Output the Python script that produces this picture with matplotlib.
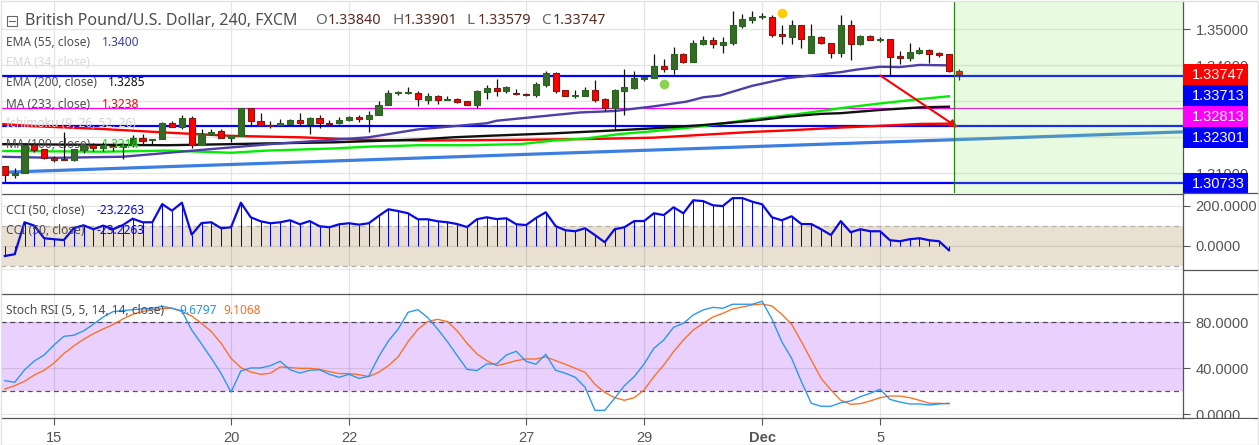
from matplotlib import pyplot as plt
from matplotlib.patches import Rectangle
import numpy as np


#准备K线数据 (开,高,低,收)
ohlc = [
    (13120,13120,13077,13096),(13096,13116,13088,13101),(13100,13183,13100,13178),(13178,13188,13160,13166),
    (13167,13167,13141,13142),(13143,13148,13132,13137),(13140,13215,13137,13138),(13138,13168,13134,13168),
    (13166,13181,13157,13178),(13178,13183,13163,13169),(13169,13188,13163,13178),(13177,13188,13163,13172),
    (13174,13183,13139,13178),(13178,13206,13174,13198),(13198,13209,13178,13191),(13192,13195,13181,13195),
    (13194,13243,13194,13240),(13239,13246,13228,13230),(13230,13262,13224,13254),(13254,13258,13171,13178),
    (13178,13223,13178,13209),(13208,13222,13206,13214),(13217,13222,13199,13199),(13199,13206,13187,13206),
    (13205,13281,13205,13281),(13281,13281,13234,13244),(13244,13267,13231,13233),(13233,13245,13226,13231),
    (13233,13250,13231,13240),(13238,13251,13237,13248),(13247,13268,13232,13239),(13238,13256,13209,13254),
    (13254,13262,13226,13239),(13240,13248,13231,13238),(13239,13257,13238,13247),(13247,13259,13246,13256),
    (13256,13261,13243,13250),(13250,13273,13215,13262),(13261,13301,13261,13289),(13289,13331,13289,13322),
    (13322,13330,13318,13326),(13323,13339,13320,13325),(13324,13330,13288,13306),(13305,13322,13293,13315),
    (13314,13318,13293,13305),(13304,13315,13303,13306),(13306,13310,13295,13299),(13300,13302,13290,13291),
    (13290,13331,13281,13329),(13327,13345,13306,13336),(13336,13362,13315,13330),(13330,13343,13324,13340),
    (13322,13334,13318,13319),(13320,13324,13315,13318),(13318,13354,13312,13347),(13345,13384,13341,13378),
    (13379,13381,13323,13330),(13331,13331,13315,13316),(13315,13331,13309,13318),(13315,13339,13315,13331),
    (13331,13359,13299,13305),(13306,13309,13273,13282),(13282,13333,13223,13331),(13330,13390,13262,13339),
    (13337,13383,13334,13364),(13363,13370,13357,13367),(13366,13431,13366,13398),(13397,13418,13381,13391),
    (13391,13451,13376,13431),(13431,13435,13406,13410),(13410,13470,13410,13461),(13460,13481,13457,13470),
    (13469,13479,13448,13458),(13457,13478,13434,13465),(13463,13551,13457,13511),(13509,13543,13504,13528),
    (13526,13551,13517,13533),(13533,13544,13528,13537),(13535,13541,13480,13485),(13486,13512,13459,13481),
    (13480,13526,13459,13511),(13511,13511,13448,13472),(13433,13515,13433,13481),(13480,13481,13460,13461),
    (13461,13463,13420,13433),(13433,13540,13424,13511),(13511,13526,13415,13458),(13458,13485,13457,13481),
    (13481,13484,13469,13471),(13471,13480,13466,13473),(13472,13472,13373,13424),(13426,13440,13404,13421),
    (13421,13461,13412,13436),(13435,13450,13432,13443),(13443,13445,13406,13432),(13435,13438,13422,13430),
    (13431,13431,13381,13385),(13384,13390,13358,13375),
]
ohlc = np.array(ohlc) / 10000
idx = np.arange(len(ohlc))

#均线 (取点读图)
ema55 = [(-0.4,1.3146),(5,1.3143),(12,1.3146),(20,1.3165),(27,1.3181),(37,1.3200),(42,1.3222),(49,1.3239),(50,1.3246),(58.5,1.3269),
         (62,1.3273),(66,1.3286),(69.3,1.3299),(71,1.3311),(72.7,1.3316),(76,1.3343),(79.5,1.3364),(85,1.3381),(86.6,1.3388),(89,1.3396),
         (91,1.3395),(93,1.3401),(95.6,1.3400)]
ema200 = [(-0.4,1.3181),(10,1.3179),(16.5,1.3178),(23,1.3181),(26.6,1.3183),(33.4,1.3186),(42.2,1.3194),(45.6,1.3200),(49,1.3204),(55.8,1.3211),
          (61.9,1.3219),(66,1.3225),(71,1.3234),(76,1.3246),(79.5,1.3257),(82.9,1.3265),(85,1.3267),(89,1.3276),(93,1.3283),(96,1.3285)]
ma233 = [(-0.4,1.3237),(3,1.3231),(10,1.3223),(16.5,1.3213),(23,1.3204),(30,1.3200),(37,1.3193),(42.2,1.3191),(52,1.3193),(59,1.3195),
         (66,1.3199),(71,1.3207),(76,1.3215),(79.5,1.3219),(85,1.3227),(88.3,1.3231),(93,1.3237),(96,1.3238)]
ma100 = [(-0.4,1.3162),(10,1.3160),(16.5,1.3163),(20,1.3160),(23,1.3157),(26.6,1.3163),(33.4,1.3169),(37,1.3174),(42.2,1.3178),(47,1.3178),
         (52.4,1.3181),(55.8,1.3191),(59.2,1.3197),(62.5,1.3209),(66,1.3217),(71,1.3231),(76,1.3250),(80.8,1.3265),(85,1.3281),(89,1.3294),
         (93,1.3306),(96,1.3314)]

cci = [-52,-43,117,100,37,32,28,87,102,82,100,82,103,135,117,117,208,175,215,55,113,117,87,92,215,142,122,112,117,127,107,123,
       97,92,107,112,105,112,148,182,173,162,132,132,122,117,108,93,132,142,133,137,107,103,138,167,98,77,72,87,53,17,82,92,
       123,123,162,153,192,162,227,223,202,198,238,238,220,207,142,127,147,108,108,82,53,123,67,82,72,72,27,22,32,37,27,22,-23.2263]
stoch_k = [29.3,27.8,38.6,46.4,51.6,60.3,67.8,68.7,72.5,78.3,84.6,89.3,90.1,91,91.6,92.2,93.9,92.2,89.9,73.3,61.2,48.7,35.4,19.4,
           37.7,40.3,40.3,42.3,46.1,38.8,35.9,38.3,38.8,34.8,32.2,34.8,31.3,33,49.9,63.8,74.2,88.7,91,84.1,74.2,63.2,51,39.1,
           38,43.8,43.8,51.6,54.8,46.1,43.5,52.2,38.3,35.7,32.2,23.5,3.5,3.5,13.9,24.9,32.8,43.8,57.4,64.6,75.7,79.1,86.4,90.7,
           93,92.2,95.7,95.7,95.7,98.3,82.9,63.2,48.7,28.4,9.6,7,7,10.1,11.6,15.4,18.3,21.7,13,10.7,9,9,8.1,9,9.6797]
stoch_d = [22,24.9,28.7,34.2,38.3,44.6,52.8,59.4,65.2,70.1,74.2,78,82.9,87,89.3,91,91.9,92.2,89.3,85.5,79.1,71.9,61.7,48.7,
           40.6,36.8,34.8,35.7,41.2,40.6,40,40,39.1,37.1,35.4,35.4,34.5,32.8,36.5,42.3,50.1,63.2,73.9,80.6,82.6,80.6,72.5,61.7,
           52.5,46.7,42.3,44.3,46.7,48.1,48.1,49.9,46.7,43.5,40,36.5,26.1,19.1,14.5,12.2,14.5,21.2,32.8,42.9,54.5,64.6,73.3,79.1,
           84.6,87.8,91.6,93.3,95.1,95.9,94.2,87,78.3,63.2,47.2,31.3,21.2,12.2,8.7,9.3,11.6,14.5,15.9,15.9,14.5,12.2,9.6,9.6,9.1068]

xmin, xmax = -0.39, 119.8
ticks = [5, 23, 35, 53, 65, 77, 89]
gridc = '#e4e4e4'
linec = '#555555'
textc = '#555555'

fig = plt.figure(figsize=(12.59, 4.45), dpi=100)
W, H = 1259.0, 445.0
plt.rcParams['axes.linewidth'] = 0.9

#主图
plt.axes([1/W, 1-193.5/H, 1182/W, 192.5/H])
plt.xlim(xmin, xmax)
plt.ylim(1.35 - (193.5-29.3)/3600, 1.35 + (29.3-1)/3600)
plt.grid(color=gridc, linewidth=0.9)
plt.gca().set_axisbelow(True)
plt.xticks(ticks, [''] * len(ticks))
plt.yticks([1.35, 1.34, 1.33, 1.32, 1.31], ['1.35000', '1.34000', '1.33000', '1.32000', '1.31000'],
           fontsize=10.5, color=textc, family='Liberation Sans')
plt.gca().yaxis.tick_right()
plt.tick_params(axis='x', length=0)
plt.tick_params(axis='y', length=5, width=0.8, color=linec, pad=4)
for s in ['top', 'left', 'bottom']:
    plt.gca().spines[s].set_visible(False)
plt.gca().spines['right'].set_color(linec)

for lv, c, w in [(1.33713, '#0000ff', 1.6), (1.32301, '#0000ff', 1.6), (1.30733, '#0000ff', 1.6), (1.32813, '#ff00ff', 0.9)]:
    plt.axhline(lv, color=c, linewidth=w, zorder=2)
plt.plot([0, 119.7], [1.3103, 1.3215], color='#3d7fe0', linewidth=2.3, zorder=2)  #趋势线
plt.plot(*zip(*ma233), color='#ff0000', linewidth=1.7, zorder=3)
plt.plot(*zip(*ma100), color='#00ee00', linewidth=1.7, zorder=3)
plt.plot(*zip(*ema200), color='#111111', linewidth=1.7, zorder=3)
plt.plot(*zip(*ema55), color='#4b3fa8', linewidth=1.7, zorder=3)

up = ohlc[:, 3] >= ohlc[:, 0]
plt.vlines(idx, ohlc[:, 2], ohlc[:, 1], color='#111111', linewidth=0.9, zorder=4)
plt.bar(idx[up], np.maximum(ohlc[up, 3] - ohlc[up, 0], 0.00012), bottom=ohlc[up, 0], width=0.62,
        color='#336b27', edgecolor='#2a6320', linewidth=0.8, zorder=5)
plt.bar(idx[~up], np.maximum(ohlc[~up, 0] - ohlc[~up, 3], 0.00012), bottom=ohlc[~up, 3], width=0.62,
        color='#ff0000', edgecolor='#7a1a10', linewidth=0.8, zorder=5)

plt.scatter([79.05], [1.3544], s=48, color='#ffcc00', linewidths=0, zorder=6)
plt.scatter([67.05], [1.3347], s=48, color='#8bd34f', linewidths=0, zorder=6)
plt.annotate('', xy=(96.9, 1.3227), xytext=(89, 1.3372), zorder=6,
             arrowprops=dict(arrowstyle='-|>', color='#ff0000', linewidth=1.5, mutation_scale=11, shrinkA=0, shrinkB=0))

plt.axvspan(96.56, xmax, color='#8ceb64', alpha=0.2, linewidth=0, zorder=8)  #绿色区域
plt.axvline(96.56, color='#2f7f1f', linewidth=0.9, zorder=9)

#CCI
plt.axes([1/W, 1-270/H, 1182/W, 76.5/H])
plt.xlim(xmin, xmax)
plt.ylim(-122, 261)
plt.axhspan(-100, 100, color='#e9e0d2', linewidth=0, zorder=1)
plt.axhline(100, color='#b5b0a8', linewidth=0.9, linestyle=(0, (4, 3)), zorder=2)
plt.axhline(-100, color='#b5b0a8', linewidth=0.9, linestyle=(0, (4, 3)), zorder=2)
plt.gca().set_axisbelow(False)
plt.grid(color='#000000', alpha=0.1, linewidth=0.9)
plt.xticks(ticks, [''] * len(ticks))
plt.yticks([200, 0], ['200.0000', '0.0000'], fontsize=10.5, color=textc, family='Liberation Sans')
plt.gca().yaxis.tick_right()
plt.tick_params(axis='x', length=0)
plt.tick_params(axis='y', length=5, width=0.8, color=linec, pad=4)
plt.vlines(np.arange(len(cci)), 0, cci, color='#0000ff', linewidth=0.75, zorder=3)
plt.plot(np.arange(len(cci)), cci, color='#0a0ae6', linewidth=1.6, zorder=4)
plt.gca().spines['left'].set_visible(False)
for s in ['top', 'right', 'bottom']:
    plt.gca().spines[s].set_color(linec)

#空白面板
plt.axes([1/W, 1-294/H, 1182/W, 24/H])
plt.xlim(xmin, xmax)
plt.xticks(ticks, [''] * len(ticks))
plt.yticks([])
plt.grid(color=gridc, linewidth=0.9)
plt.tick_params(axis='x', length=0)
plt.gca().spines['left'].set_visible(False)
plt.gca().spines['top'].set_visible(False)
plt.gca().spines['bottom'].set_visible(False)
plt.gca().spines['right'].set_color(linec)

#Stoch RSI
plt.axes([1/W, 1-418/H, 1182/W, 124/H])
plt.xlim(xmin, xmax)
plt.ylim(-3.2, 104.6)
plt.axhspan(20, 80, color='#e9d0fd', linewidth=0, zorder=1)
plt.axhline(80, color='#5a5060', linewidth=0.9, linestyle=(0, (4, 3)), zorder=2)
plt.axhline(20, color='#5a5060', linewidth=0.9, linestyle=(0, (4, 3)), zorder=2)
plt.gca().set_axisbelow(False)
plt.grid(color='#000000', alpha=0.1, linewidth=0.9)
plt.xticks(ticks, ['15', '20', '22', '27', '29', 'Dec', '5'], fontsize=10.5, color=textc, family='Liberation Sans')
plt.gca().get_xticklabels()[5].set_fontweight('bold')
plt.yticks([80, 40, 0], ['80.0000', '40.0000', '0.0000'], fontsize=10.5, color=textc, family='Liberation Sans')
plt.gca().yaxis.tick_right()
plt.tick_params(axis='x', length=5, width=0.8, color=linec, pad=4)
plt.tick_params(axis='y', length=5, width=0.8, color=linec, pad=4)
plt.plot(np.arange(len(stoch_d)), stoch_d, color='#ff6d1f', linewidth=0.95, zorder=3)
plt.plot(np.arange(len(stoch_k)), stoch_k, color='#2196f3', linewidth=0.95, zorder=4)
plt.gca().spines['left'].set_visible(False)
for s in ['top', 'right', 'bottom']:
    plt.gca().spines[s].set_color(linec)

#右侧价格标签
for lab, c, top in [('1.33747', '#ff0000', 64), ('1.33713', '#0000ff', 85), ('1.32813', '#ff00ff', 106),
                    ('1.32301', '#0000ff', 127), ('1.30733', '#0000ff', 173)]:
    fig.add_artist(Rectangle((1183/W, 1-(top+21)/H), 65/W, 21/H, facecolor=c, edgecolor='none', transform=fig.transFigure))
    fig.text(1192/W, 1-(top+10.8)/H, lab, color='white', fontsize=10.5, va='center', family='Liberation Sans')

#分隔线和外框
for y in [193.5, 270, 294, 418]:
    fig.add_artist(plt.Line2D([1183/W, 1257/W], [1-y/H, 1-y/H], color=linec, linewidth=0.9, transform=fig.transFigure))
fig.add_artist(Rectangle((1193/W, 1-425/H), 60/W, 6.5/H, facecolor='white', edgecolor='none', transform=fig.transFigure, zorder=2))
fig.add_artist(Rectangle((0.5/W, 1-444.5/H), 1257/W, 444/H, facecolor='none', edgecolor='#e2e2e2', linewidth=1, transform=fig.transFigure))

#标题和图例文字
fig.add_artist(Rectangle((7/W, 1-26/H), 10/W, 10/H, facecolor='none', edgecolor='#666666', linewidth=0.8, transform=fig.transFigure))
fig.add_artist(plt.Line2D([9/W, 15/W], [1-21/H, 1-21/H], color='#666666', linewidth=0.8, transform=fig.transFigure))
titlefont = 'Noto Sans'
for x, s, c, fs in [(25, 'British Pound/U.S. Dollar, 240, FXCM', '#4d4d4d', 11.5), (315, 'O', '#666666', 11), (328, '1.33840', '#5b2a20', 10.4),
                    (392, 'H', '#666666', 11), (404, '1.33901', '#5b2a20', 10.4), (467, 'L', '#666666', 11), (478, '1.33579', '#5b2a20', 10.4),
                    (541, 'C', '#666666', 11), (553, '1.33747', '#5b2a20', 10.4)]:
    fig.text(x/W, 1-21/H, s, color=c, fontsize=fs, va='center', family=titlefont)
for x, y, s, c in [(6, 42, 'EMA (55, close)', '#4d4d4d'), (102, 42, '1.3400', '#3f3fa8'),
                   (6, 62, 'EMA (34, close)', '#d8d8d8'),
                   (6, 83, 'EMA (200, close)', '#4d4d4d'), (108, 83, '1.3285', '#111111'),
                   (6, 104, 'MA (233, close)', '#4d4d4d'), (102, 104, '1.3238', '#ff0000'),
                   (6, 124, 'Ichimoku (9, 26, 52, 26)', '#d0d0d0'),
                   (6, 145, 'MA (100, close)', '#4d4d4d'), (102, 145, '1.3314', '#00e000'),
                   (6, 210, 'CCI (50, close)', '#4d4d4d'), (96, 210, '-23.2263', '#0000ff'),
                   (6, 231, 'CCI (50, close)', '#4d4d4d'), (96, 231, '-23.2263', '#0000ff'),
                   (6, 311, 'Stoch RSI (5, 5, 14, 14, close)', '#4d4d4d'), (179, 311, '9.6797', '#2196f3'),
                   (223, 311, '9.1068', '#ff6d1f')]:
    fig.text(x/W, 1-y/H, s, color=c, fontsize=8.6, va='center', family=titlefont)

#输出图片
plt.savefig('out.png', dpi=100)
